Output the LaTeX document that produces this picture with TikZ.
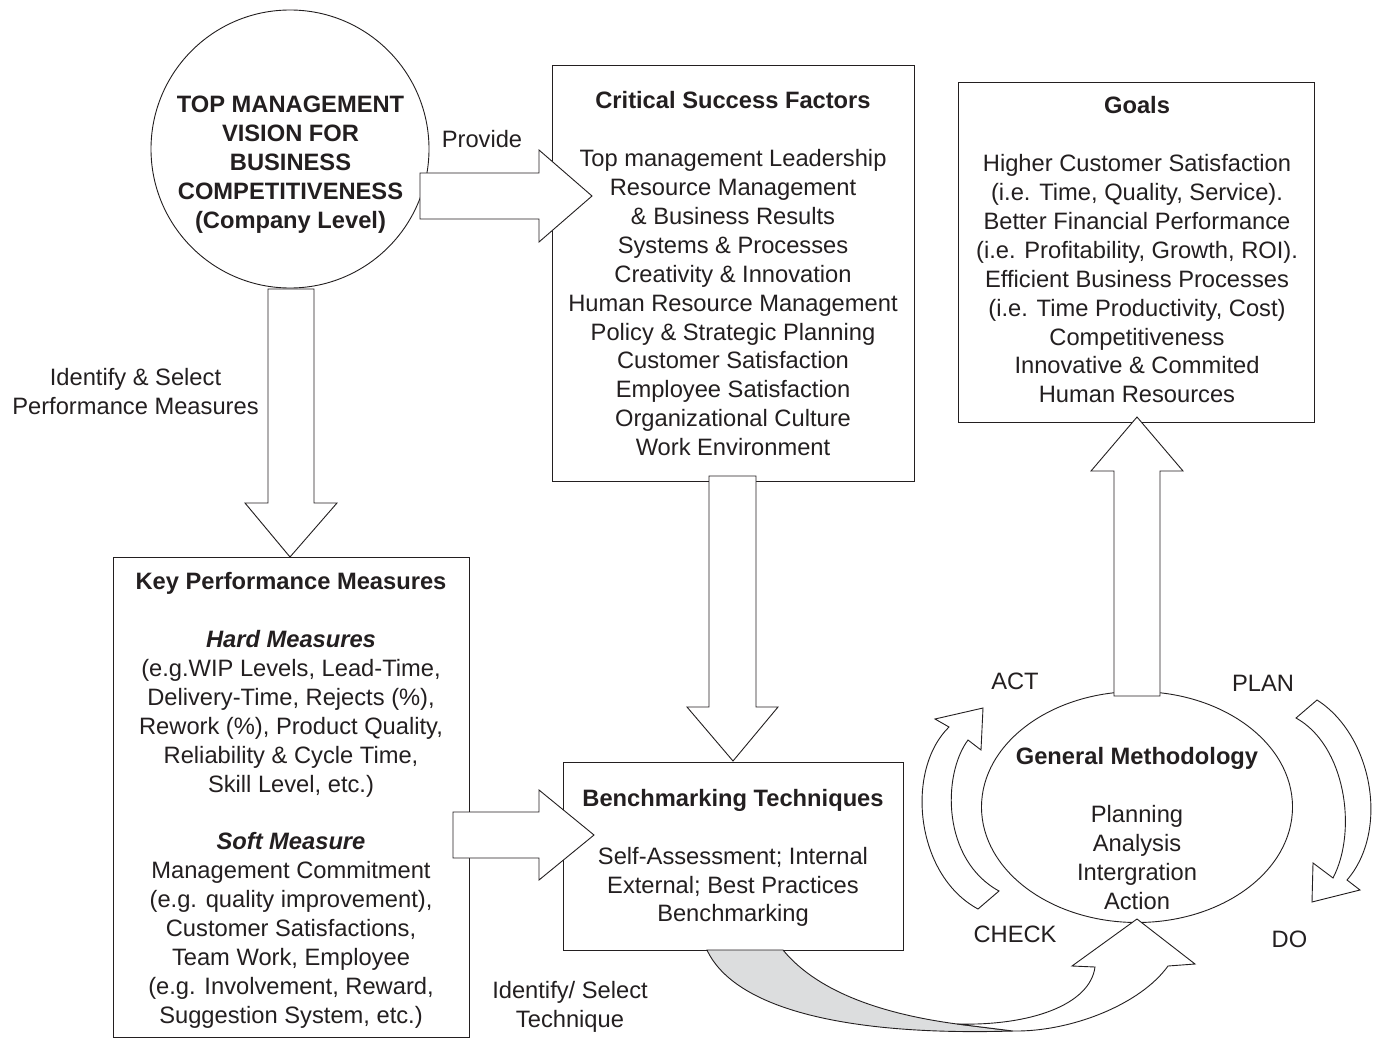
\documentclass[tikz,border=0pt]{standalone}
\usepackage{fontspec}
\setmainfont{Liberation Sans}
\usetikzlibrary{shapes.geometric}
\definecolor{ink}{HTML}{231F20}
\definecolor{ribbon}{HTML}{DCDDDE}
\begin{document}
\begin{tikzpicture}[x=1pt,y=-1pt,line join=miter,
  ln/.style={draw=ink,line width=0.9pt},
  box/.style={ln,rectangle,inner sep=0pt,fill=white},
  blk/.style={ln,fill=white},
  txt/.style={text=ink,font=\fontsize{23.7}{28.9}\selectfont,align=center,inner sep=0pt},
  btxt/.style={txt,font=\fontsize{23.7}{28.9}\selectfont\bfseries}]
\useasboundingbox (0,0) rectangle (1373,1038);
\fill[white] (0,0) rectangle (1373,1038);

% main shapes
\node[box,circle,minimum size=278pt] (vision) at (290,149) {};
\node[box,minimum width=362pt,minimum height=416pt] (csf) at (733,273) {};
\node[box,minimum width=356pt,minimum height=340pt] (goals) at (1136,252) {};
\node[box,minimum width=356pt,minimum height=480pt] (kpm) at (291,797) {};
\node[box,minimum width=340pt,minimum height=188pt] (bench) at (733,856) {};
\node[box,ellipse,minimum width=311pt,minimum height=231pt] (gm) at (1137,807) {};

% block arrows
\draw[blk] (420,173) -- (539,173) -- (539,150) -- (592,196) -- (539,242) -- (539,219) -- (420,219) -- cycle;
\draw[blk] (268,289) -- (314,289) -- (314,503) -- (337,503) -- (290,557) -- (245,503) -- (268,503) -- cycle;
\draw[blk] (709,476) -- (756,476) -- (756,707) -- (778,707) -- (733,761) -- (687,707) -- (709,707) -- cycle;
\draw[blk] (453,812) -- (539,812) -- (539,790) -- (594,835) -- (539,880) -- (539,858) -- (453,858) -- cycle;
\draw[blk] (1114,696) -- (1160,696) -- (1160,471) -- (1183,471) -- (1137,417) -- (1091,471) -- (1114,471) -- cycle;

% ACT curved arrow
\draw[blk] (978,909) .. controls (915,875) and (905,770) .. (949,727) -- (935,719) -- (983,708) -- (981,750) -- (968,740)
  .. controls (942,775) and (942,860) .. (999,891) -- cycle;
% PLAN/DO curved arrow
\draw[blk] (1317,700) .. controls (1372,735) and (1390,830) .. (1347,880) -- (1360,890) -- (1312,902) -- (1313,863) -- (1333,878)
  .. controls (1358,830) and (1345,745) .. (1296,718) -- cycle;

% ribbon arrow from benchmarking to methodology
\draw[ln,fill=ribbon] (707,950) .. controls (735,1010) and (850,1036) .. (1013,1031) -- (957,1024)
  .. controls (890,1015) and (820,995) .. (783,950) -- cycle;
\draw[blk] (957,1024) .. controls (1030,1026) and (1090,1005) .. (1095,967) -- (1072,966) -- (1137,919) -- (1195,964) -- (1168,966)
  .. controls (1140,1005) and (1070,1032) .. (1013,1031) -- cycle;

% texts
\node[btxt,anchor=north] (visiontxt) at (290.5,96) {TOP MANAGEMENT\\VISION FOR\\BUSINESS\\COMPETITIVENESS\\(Company Level)};
\node[txt,anchor=base] (provide) at (482,147.5) {Provide};
\node[txt,anchor=north] (identify) at (135.5,368.5) {Identify \& Select\\Performance Measures};
\node[txt,anchor=north] (csftxt) at (733,91.5) {{\bfseries Critical Success Factors}\\[28.9pt]
  Top management Leadership\\Resource Management\\\& Business Results\\Systems \& Processes\\Creativity \& Innovation\\
  Human Resource Management\\Policy \& Strategic Planning\\Customer Satisfaction\\Employee Satisfaction\\Organizational Culture\\Work Environment};
\node[txt,anchor=north] (goalstxt) at (1137,96.5) {{\bfseries Goals}\\[28.9pt]
  Higher Customer Satisfaction\\(i.e. Time, Quality, Service).\\Better Financial Performance\\(i.e. Profitability, Growth, ROI).\\
  Efficient Business Processes\\(i.e. Time Productivity, Cost)\\Competitiveness\\Innovative \& Commited\\Human Resources};
\node[txt,anchor=north] (kpmtxt) at (291,572.5) {{\bfseries Key Performance Measures}\\[28.9pt]
  {\bfseries\itshape Hard Measures}\\(e.g.WIP Levels, Lead-Time,\\Delivery-Time, Rejects (\%),\\Rework (\%), Product Quality,\\
  Reliability \& Cycle Time,\\Skill Level, etc.)\\[28.9pt]
  {\bfseries\itshape Soft Measure}\\Management Commitment\\(e.g. quality improvement),\\Customer Satisfactions,\\Team Work, Employee\\
  (e.g. Involvement, Reward,\\Suggestion System, etc.)};
\node[txt,anchor=north] (benchtxt) at (733,789) {{\bfseries Benchmarking Techniques}\\[28.9pt]
  Self-Assessment; Internal\\External; Best Practices\\Benchmarking};
\node[txt,anchor=north] (gmtxt) at (1137,747.5) {{\bfseries General Methodology}\\[28.9pt]
  Planning\\Analysis\\Intergration\\Action};
\node[txt,anchor=north] (technique) at (570,981.5) {Identify/ Select\\Technique};
\node[txt,anchor=base] (act) at (1015,689) {ACT};
\node[txt,anchor=base] (plan) at (1263,691) {PLAN};
\node[txt,anchor=base] (check) at (1015,942.5) {CHECK};
\node[txt,anchor=base] (do) at (1289.5,947.5) {DO};
\end{tikzpicture}
\end{document}
